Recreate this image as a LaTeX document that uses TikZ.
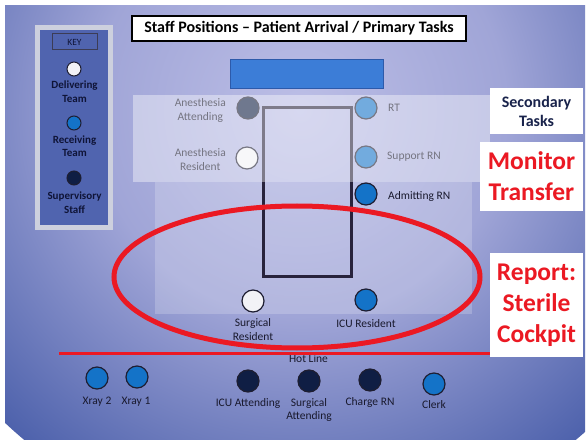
\documentclass[tikz,border=0pt]{standalone}
\usepackage{fontspec}
\setmainfont{Carlito}
\definecolor{bgA}{RGB}{188,190,230}
\definecolor{bgB}{RGB}{160,165,215}
\definecolor{bgC}{RGB}{78,98,172}
\definecolor{bgD}{RGB}{22,36,100}
\definecolor{keyframe}{RGB}{205,208,222}
\definecolor{keyfill}{RGB}{80,100,175}
\definecolor{keyedge}{RGB}{60,60,85}
\definecolor{navytext}{RGB}{15,20,55}
\definecolor{labtext}{RGB}{25,25,45}
\definecolor{barfill}{RGB}{60,125,215}
\definecolor{baredge}{RGB}{45,90,170}
\definecolor{bededge}{RGB}{40,35,60}
\definecolor{circedge}{RGB}{30,30,50}
\definecolor{pblue}{RGB}{20,115,200}
\definecolor{pnavy}{RGB}{15,30,68}
\definecolor{pwhite}{RGB}{242,242,246}
\definecolor{redc}{RGB}{235,25,35}
\definecolor{sectext}{RGB}{25,35,75}
\pgfdeclareradialshading{bgshade}{\pgfpoint{0bp}{0bp}}{color(0bp)=(bgA); color(12bp)=(bgB); color(25bp)=(bgC); color(45bp)=(bgD); color(50bp)=(bgD)}
\begin{document}
\begin{tikzpicture}[x=1pt,y=-1pt,
  lbl/.style={font=\fontsize{11.5}{13.5}\selectfont, text=labtext, inner sep=0pt, align=center},
  keylbl/.style={font=\bfseries\fontsize{11}{13.5}\selectfont, text=navytext, inner sep=0pt, align=center},
  person/.style={circle, draw=circedge, line width=1.2pt, minimum size=22pt, inner sep=0pt},
  keydot/.style={circle, draw=circedge, line width=1pt, minimum size=14pt, inner sep=0pt},
  redbox/.style={fill=white, inner sep=0pt, align=center, text=redc, font=\bfseries\fontsize{25.5}{31}\selectfont},
]
\useasboundingbox (0,0) rectangle (587,441);
\fill[white] (0,0) rectangle (587,441);
\begin{scope}
  \clip (5,6) rectangle (585,439);
  \shade[shading=bgshade] (300,110) circle [radius=430pt];
\end{scope}
% lower primary region
\fill[white, opacity=0.2] (155,182) rectangle (472,314);
% key panel
\draw[draw=keyframe, line width=5pt, fill=keyfill] (37.5,27.5) rectangle (110.5,227.5);
\node[draw=keyedge, line width=1pt, minimum width=45pt, minimum height=16pt, inner sep=0pt, text=navytext, font=\fontsize{9.5}{11}\selectfont] (key) at (74.5,42) {KEY};
\node[keydot, fill=pwhite] (kdel) at (74,69) {};
\node[keylbl] (kdell) at (74.5,91.5) {Delivering\\Team};
\node[keydot, fill=pblue] (krec) at (74,123) {};
\node[keylbl] (krecl) at (74.5,146) {Receiving\\Team};
\node[keydot, fill=pnavy] (ksup) at (74,178) {};
\node[keylbl] (ksupl) at (74.5,202.5) {Supervisory\\Staff};
% title
\node[draw=black, line width=1.2pt, fill=white, minimum width=334pt, minimum height=25pt, inner sep=0pt, font=\bfseries\fontsize{16}{19}\selectfont] (title) at (299,28.5) {Staff Positions -- Patient Arrival / Primary Tasks};
% blue bar
\node[draw=baredge, fill=barfill, line width=1pt, minimum width=153pt, minimum height=29pt, inner sep=0pt] (bar) at (306.5,74.5) {};
% bed
\draw[line width=3pt, draw=bededge] (263,108) rectangle (351,276);
% people in secondary band
\node[person, fill=pnavy] (aa) at (248,108) {};
\node[lbl, anchor=east] (aal) at (226,110.5) {Anesthesia\\Attending};
\node[person, fill=pwhite] (ar) at (247,158) {};
\node[lbl, anchor=east] (arl) at (226,159.5) {Anesthesia\\Resident};
\node[person, fill=pblue] (rt) at (366,108) {};
\node[lbl, anchor=west] (rtl) at (388,108) {RT};
\node[person, fill=pblue] (srn) at (366,157) {};
\node[lbl, anchor=west] (srnl) at (387,157) {Support RN};
% secondary band overlay
\fill[white, opacity=0.4] (133,95) rectangle (490,182);
% other people
\node[person, fill=pblue] (arn) at (366,194) {};
\node[lbl, anchor=west] (arnl) at (388,196) {Admitting RN};
\node[person, fill=pwhite] (sr) at (253,301) {};
\node[lbl] (srl) at (253,329.5) {Surgical\\Resident};
\node[person, fill=pblue] (icur) at (366,300) {};
\node[lbl] (icurl) at (366,324) {ICU Resident};
\node[lbl] (hot) at (308.5,359) {Hot Line};
\node[person, fill=pblue] (x2) at (97,378) {};
\node[lbl] (x2l) at (97,402) {Xray 2};
\node[person, fill=pblue] (x1) at (137,377) {};
\node[lbl] (x1l) at (136,402) {Xray 1};
\node[person, fill=pnavy] (icua) at (248,381) {};
\node[lbl] (icual) at (248,403) {ICU Attending};
\node[person, fill=pnavy] (sa) at (309,381) {};
\node[lbl] (sal) at (309,410) {Surgical\\Attending};
\node[person, fill=pnavy] (crn) at (370,380) {};
\node[lbl] (crnl) at (370,402) {Charge RN};
\node[person, fill=pblue] (clerk) at (434,384) {};
\node[lbl] (clerkl) at (434,405) {Clerk};
% right boxes
\node[fill=white, minimum width=93pt, minimum height=46pt, inner sep=0pt, align=center, text=sectext, font=\bfseries\fontsize{16}{19}\selectfont] (sec) at (536.5,111.5) {Secondary\\Tasks};
\node[redbox, minimum width=103pt, minimum height=69pt] (mon) at (531.5,176.5) {Monitor\\Transfer};
\node[redbox, minimum width=93pt, minimum height=104pt] (report) at (536.5,305) {Report:\\Sterile\\Cockpit};
% red ellipse and line
\draw[redc, line width=5pt] (297,277) ellipse [x radius=183pt, y radius=71pt];
\coordinate (hl) at (59,353);
\draw[redc, line width=3pt] (hl) -- (hl -| report.west);
\end{tikzpicture}
\end{document}
